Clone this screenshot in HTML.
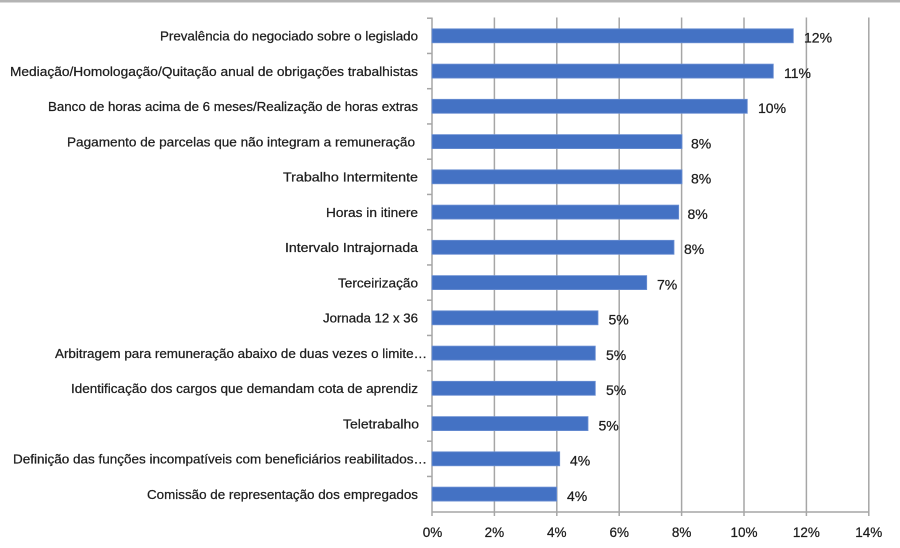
<!DOCTYPE html>
<html>
<head>
<meta charset="utf-8">
<style>
  html, body { margin:0; padding:0; background:#fff; }
  svg { display:block; }
  .cat { font-family: "Liberation Sans", sans-serif; font-size:12.5px; fill:#1e1e1e; stroke:#1e1e1e; stroke-width:0.25; }
  .val { font-family: "Liberation Sans", sans-serif; font-size:14px; fill:#1e1e1e; stroke:#1e1e1e; stroke-width:0.25; }
  .ax { font-family: "Liberation Sans", sans-serif; font-size:13.5px; fill:#1e1e1e; stroke:#1e1e1e; stroke-width:0.25; }
</style>
</head>
<body>
<svg width="900" height="548" viewBox="0 0 900 548" xmlns="http://www.w3.org/2000/svg">
  <rect x="0" y="0" width="900" height="548" fill="#ffffff"/>
  <rect x="0" y="0" width="900" height="2.5" fill="#b4b4b4"/>

  <!-- gridlines -->
  <g stroke="#a6a6a6" stroke-width="1.5">
    <line x1="494.4" y1="17.5" x2="494.4" y2="516"/>
    <line x1="556.8" y1="17.5" x2="556.8" y2="516"/>
    <line x1="619.2" y1="17.5" x2="619.2" y2="516"/>
    <line x1="681.6" y1="17.5" x2="681.6" y2="516"/>
    <line x1="744" y1="17.5" x2="744" y2="516"/>
    <line x1="806.4" y1="17.5" x2="806.4" y2="516"/>
    <line x1="868.8" y1="17.5" x2="868.8" y2="516"/>
    <!-- axes -->
    <line x1="432" y1="17.5" x2="432" y2="516"/>
    <line x1="432" y1="512" x2="868.8" y2="512"/>
    <!-- category ticks -->
    <line x1="427" y1="18.2" x2="432" y2="18.2"/>
    <line x1="427" y1="53.45" x2="432" y2="53.45"/>
    <line x1="427" y1="88.7" x2="432" y2="88.7"/>
    <line x1="427" y1="123.95" x2="432" y2="123.95"/>
    <line x1="427" y1="159.2" x2="432" y2="159.2"/>
    <line x1="427" y1="194.45" x2="432" y2="194.45"/>
    <line x1="427" y1="229.7" x2="432" y2="229.7"/>
    <line x1="427" y1="264.95" x2="432" y2="264.95"/>
    <line x1="427" y1="300.2" x2="432" y2="300.2"/>
    <line x1="427" y1="335.45" x2="432" y2="335.45"/>
    <line x1="427" y1="370.7" x2="432" y2="370.7"/>
    <line x1="427" y1="405.95" x2="432" y2="405.95"/>
    <line x1="427" y1="441.2" x2="432" y2="441.2"/>
    <line x1="427" y1="476.45" x2="432" y2="476.45"/>
  </g>

  <!-- bars -->
  <g fill="#4472c4" stroke="#6b8fd2" stroke-width="0.8">
    <rect x="432" y="28.8" width="361.3" height="14"/>
    <rect x="432" y="64.1" width="341.3" height="14"/>
    <rect x="432" y="99.3" width="315.3" height="14"/>
    <rect x="432" y="134.6" width="250" height="14"/>
    <rect x="432" y="169.8" width="250" height="14"/>
    <rect x="432" y="205.1" width="246.7" height="14"/>
    <rect x="432" y="240.3" width="242" height="14"/>
    <rect x="432" y="275.6" width="214.7" height="14"/>
    <rect x="432" y="310.8" width="166" height="14"/>
    <rect x="432" y="346.1" width="163.3" height="14"/>
    <rect x="432" y="381.3" width="163.3" height="14"/>
    <rect x="432" y="416.6" width="156" height="14"/>
    <rect x="432" y="451.8" width="127.7" height="14"/>
    <rect x="432" y="487.1" width="124.7" height="14"/>
  </g>

  <!-- data labels -->
  <g class="val">
    <text x="804" y="42.5">12%</text>
    <text x="784" y="77.8">11%</text>
    <text x="758" y="113">10%</text>
    <text x="691" y="148.3">8%</text>
    <text x="691" y="183.5">8%</text>
    <text x="687.5" y="218.8">8%</text>
    <text x="684" y="254">8%</text>
    <text x="657" y="289.3">7%</text>
    <text x="608.5" y="324.5">5%</text>
    <text x="606" y="359.8">5%</text>
    <text x="606" y="395">5%</text>
    <text x="598.5" y="430.3">5%</text>
    <text x="570" y="465.5">4%</text>
    <text x="567" y="500.8">4%</text>
  </g>

  <!-- category labels -->
  <g class="cat">
    <text x="160" y="40.5" textLength="258" lengthAdjust="spacingAndGlyphs">Prevalência do negociado sobre o legislado</text>
    <text x="10" y="75.8" textLength="408" lengthAdjust="spacingAndGlyphs">Mediação/Homologação/Quitação anual de obrigações trabalhistas</text>
    <text x="48" y="111" textLength="370" lengthAdjust="spacingAndGlyphs">Banco de horas acima de 6 meses/Realização de horas extras</text>
    <text x="67" y="146.3" textLength="348" lengthAdjust="spacingAndGlyphs">Pagamento de parcelas que não integram a remuneração</text>
    <text x="283" y="181.5" textLength="135" lengthAdjust="spacingAndGlyphs">Trabalho Intermitente</text>
    <text x="326" y="216.8" textLength="92" lengthAdjust="spacingAndGlyphs">Horas in itinere</text>
    <text x="285" y="252" textLength="133" lengthAdjust="spacingAndGlyphs">Intervalo Intrajornada</text>
    <text x="338" y="287.3" textLength="80" lengthAdjust="spacingAndGlyphs">Terceirização</text>
    <text x="323" y="322.5" textLength="95" lengthAdjust="spacingAndGlyphs">Jornada 12 x 36</text>
    <text x="55" y="357.8" textLength="372" lengthAdjust="spacingAndGlyphs">Arbitragem para remuneração abaixo de duas vezes o limite…</text>
    <text x="71" y="393" textLength="347" lengthAdjust="spacingAndGlyphs">Identificação dos cargos que demandam cota de aprendiz</text>
    <text x="343" y="428.3" textLength="76" lengthAdjust="spacingAndGlyphs">Teletrabalho</text>
    <text x="13" y="463.5" textLength="414" lengthAdjust="spacingAndGlyphs">Definição das funções incompatíveis com beneficiários reabilitados…</text>
    <text x="147" y="498.8" textLength="271" lengthAdjust="spacingAndGlyphs">Comissão de representação dos empregados</text>
  </g>

  <!-- axis labels -->
  <g class="ax" text-anchor="middle">
    <text x="432.5" y="537">0%</text>
    <text x="494.4" y="537">2%</text>
    <text x="556.8" y="537">4%</text>
    <text x="619.2" y="537">6%</text>
    <text x="681.6" y="537">8%</text>
    <text x="744" y="537">10%</text>
    <text x="806.4" y="537">12%</text>
    <text x="868.8" y="537">14%</text>
  </g>
</svg>
</body>
</html>
